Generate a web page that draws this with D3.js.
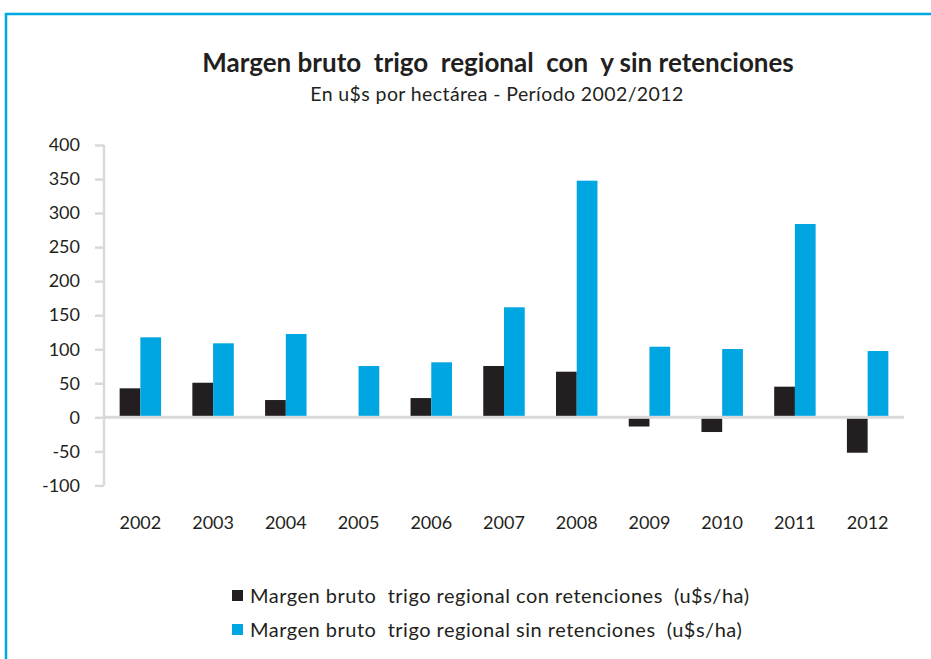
<!DOCTYPE html>
<html>
<head>
<meta charset="utf-8">
<script src="https://cdn.jsdelivr.net/npm/d3@7"></script>
<style>
  body { margin: 0; background: #fff; }
  svg { display: block; font-family: Lato, "Open Sans", sans-serif; }
</style>
</head>
<body>
<svg id="chart" width="931" height="659"></svg>
<script>
'use strict';

var years = ['2002','2003','2004','2005','2006','2007','2008','2009','2010','2011','2012'];
var conRet = [42.6, 50.8, 25.4, 0, 28.3, 75.4, 67, -13.5, -21.6, 45, -52];
var sinRet = [117.5, 108.7, 122.4, 75.4, 80.8, 161.6, 347.6, 103.7, 100.3, 284, 97.4];
var yTicks = [-100, -50, 0, 50, 100, 150, 200, 250, 300, 350, 400];
var seriesNames = [
  'Margen bruto  trigo regional con retenciones  (u$s/ha)',
  'Margen bruto  trigo regional sin retenciones  (u$s/ha)'
];
var colors = ['#231f20', '#00a6e2'];

var svg = d3.select('#chart');

// frame (right and bottom edges fall outside the picture)
svg.append('path')
  .attr('d', 'M6,659 L6,14 L931,14')
  .attr('fill', 'none')
  .attr('stroke', '#00a8e1')
  .attr('stroke-width', 2.5);

var plotLeft = 104, plotRight = 904, plotTop = 145, plotBottom = 485.4;

var x = d3.scaleBand().domain(years).range([plotLeft, plotRight]).paddingInner(0.43).paddingOuter(0.215);
var y = d3.scaleLinear().domain([-100, 400]).range([plotBottom, plotTop]);
var sub = d3.scaleBand().domain([0, 1]).range([0, x.bandwidth()]);

// title
svg.append('text')
  .attr('x', 498).attr('y', 72)
  .attr('text-anchor', 'middle')
  .attr('font-weight', 'bold')
  .attr('font-size', 26)
  .attr('fill', '#231f20')
  .attr('xml:space', 'preserve')
  .text('Margen bruto  trigo  regional  con  y sin retenciones');

svg.append('text')
  .attr('x', 497).attr('y', 101)
  .attr('text-anchor', 'middle')
  .attr('font-size', 19.5)
  .attr('letter-spacing', 0.4)
  .attr('fill', '#231f20')
  .text('En u$s por hectárea - Período 2002/2012');

// y axis (plain hyphen for negatives, as in the source)
var yAxis = svg.append('g')
  .attr('transform', 'translate(' + plotLeft + ',0)')
  .call(d3.axisLeft(y).tickValues(yTicks).tickSize(9).tickPadding(15)
    .tickFormat(function(d) { return String(d); }));
yAxis.selectAll('path, line').attr('stroke', '#d9d9d9').attr('stroke-width', 2.5);
yAxis.select('path').attr('d', 'M0,' + y(400) + 'V' + y(-100));
yAxis.selectAll('text')
  .attr('font-size', 18)
  .attr('font-family', 'Lato, "Open Sans", sans-serif')
  .attr('fill', '#231f20');

// zero line
svg.append('line')
  .attr('x1', plotLeft).attr('x2', plotRight)
  .attr('y1', y(0)).attr('y2', y(0))
  .attr('stroke', '#d9d9d9')
  .attr('stroke-width', 3);

// bars
[conRet, sinRet].forEach(function(vals, s) {
  svg.append('g').selectAll('rect')
    .data(vals)
    .enter().append('rect')
      .attr('x', function(d, i) { return x(years[i]) + sub(s); })
      .attr('width', sub.bandwidth())
      .attr('y', function(d) { return d >= 0 ? y(d) : y(0) + 1.5; })
      .attr('height', function(d) { return d >= 0 ? Math.max(0, y(0) - 1.5 - y(d)) : y(d) - y(0) - 1.5; })
      .attr('fill', colors[s]);
});

// x labels
svg.append('g').selectAll('text')
  .data(years)
  .enter().append('text')
    .attr('x', function(d) { return x(d) + x.bandwidth() / 2; })
    .attr('y', 529)
    .attr('text-anchor', 'middle')
    .attr('font-size', 18)
    .attr('fill', '#231f20')
    .text(function(d) { return d; });

// legend
var legend = svg.append('g').selectAll('g')
  .data(seriesNames)
  .enter().append('g')
    .attr('transform', function(d, i) { return 'translate(232,' + (590 + i * 34) + ')'; });
legend.append('rect')
  .attr('width', 11).attr('height', 11)
  .attr('fill', function(d, i) { return colors[i]; });
legend.append('text')
  .attr('x', 18).attr('y', 12.5)
  .attr('font-size', 20)
  .attr('letter-spacing', 0.5)
  .attr('fill', '#231f20')
  .attr('xml:space', 'preserve')
  .text(function(d) { return d; });
</script>
</body>
</html>
